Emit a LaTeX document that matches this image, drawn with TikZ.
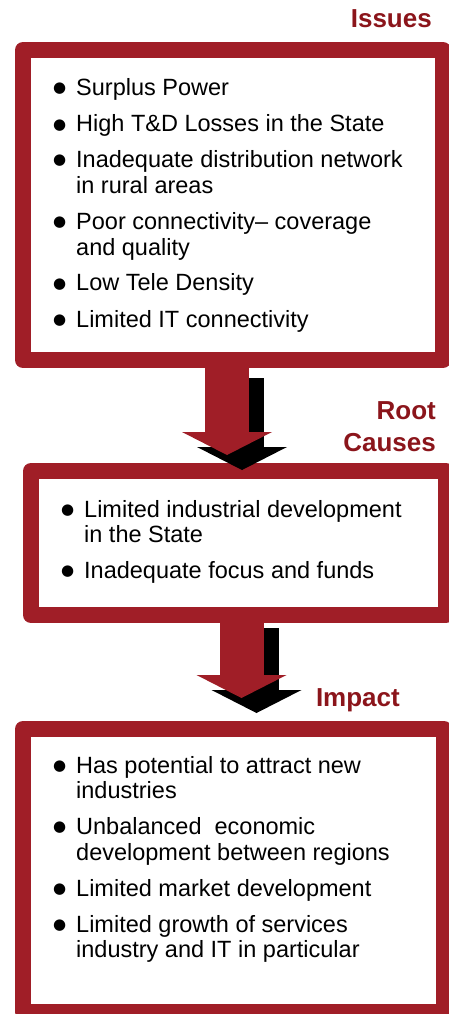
\documentclass[tikz,border=0pt]{standalone}
\usepackage{fontspec}
\setmainfont{Liberation Sans}
\newfontfamily\symfont{DejaVu Sans}
\usetikzlibrary{arrows.meta,calc}

\definecolor{boxred}{RGB}{160,30,39}
\definecolor{headred}{RGB}{139,21,27}
\newcommand{\blt}{\makebox[23pt][l]{\raisebox{3pt}{\symfont\fontsize{15pt}{15pt}\selectfont ●}}}
\newcommand{\bodyfont}{\fontsize{23.5pt}{25.5pt}\selectfont}
\newcommand{\headfont}{\fontsize{26pt}{32pt}\selectfont\bfseries}

\begin{document}
\begin{tikzpicture}[x=1pt, y=-1pt,
    box/.style={draw=boxred, line width=16pt, line join=round, fill=white},
    items/.style={anchor=base west, inner sep=0pt, font=\bodyfont},
    heading/.style={inner sep=0pt, text=headred, font=\headfont},
    flow/.style={line width=44pt, -{Triangle[width=90pt,length=23pt,line width=0pt]}}]
\useasboundingbox (0,0) rectangle (448,1014);

\node[box, minimum width=420pt, minimum height=310pt] (issues) at (233,205) {};
\node[box, minimum width=415pt, minimum height=144pt] (causes) at (238.5,543) {};
\node[box, minimum width=421pt, minimum height=283pt] (impact) at (233.5,870.5) {};

\node[heading, anchor=base east] (issueshead) at (432,28) {Issues};
\node[heading, anchor=south east, align=right] (causeshead) at (436,452) {Root\\Causes};
\node[heading, anchor=base east] (impacthead) at (400,706) {Impact};

\node[items] (issuestext) at (53,96) {\begin{tabular}[t]{@{}l@{}l@{}}
  \blt & Surplus Power\\[10.5pt]
  \blt & High T\&D Losses in the State\\[10.5pt]
  \blt & Inadequate distribution network\\
       & in rural areas\\[10.5pt]
  \blt & Poor connectivity\textendash{} coverage\\
       & and quality\\[10.5pt]
  \blt & Low Tele Density\\[10.5pt]
  \blt & Limited IT connectivity
\end{tabular}};

\node[items] (causestext) at (61,517) {\begin{tabular}[t]{@{}l@{}l@{}}
  \blt & Limited industrial development\\
       & in the State\\[10.5pt]
  \blt & Inadequate focus and funds
\end{tabular}};

\node[items] (impacttext) at (53,773) {\begin{tabular}[t]{@{}l@{}l@{}}
  \blt & Has potential to attract new\\
       & industries\\[10.5pt]
  \blt & Unbalanced\ \ economic\\
       & development between regions\\[10.5pt]
  \blt & Limited market development\\[10.5pt]
  \blt & Limited growth of services\\
       & industry and IT in particular
\end{tabular}};

% shadow first, then the red arrow
\draw[flow, draw=black, shorten >=8pt] ($(issues.south)+(9,10)$) -- ($(issues.south |- causes.north)+(9,15)$);
\draw[flow, draw=boxred, shorten >=8pt] ($(issues.south)+(-6,0)$) -- ($(issues.south |- causes.north)+(-6,0)$);

\draw[flow, draw=black, shorten >=23pt] ($(causes.south)+(18,5)$) -- ($(causes.south |- impact.north)+(18,15)$);
\draw[flow, draw=boxred, shorten >=23pt] ($(causes.south)+(3,0)$) -- ($(causes.south |- impact.north)+(3,0)$);
\end{tikzpicture}
\end{document}
